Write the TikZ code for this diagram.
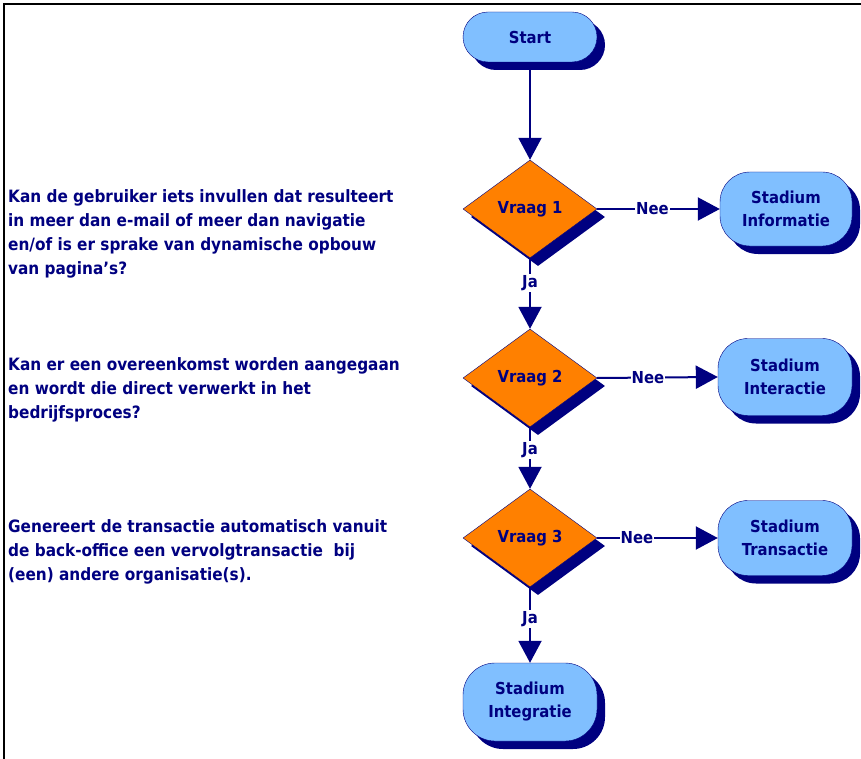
\documentclass[tikz,border=0pt]{standalone}
\usepackage{fontspec}
\setmainfont{DejaVu Sans Condensed}
\usepackage{tikz}
\usetikzlibrary{shapes.geometric,shadows,arrows.meta}

\definecolor{navy}{HTML}{000080}
\definecolor{lichtblauw}{HTML}{80BFFF}
\definecolor{oranje}{HTML}{FF8000}

\tikzset{
  schaduw/.style={drop shadow={shadow xshift=8pt,shadow yshift=-8pt,fill=navy,opacity=1}},
  stadium/.style={draw=navy, thin, fill=lichtblauw, schaduw, rounded corners=30pt,
    minimum width=134pt, minimum height=76pt, align=center, text=navy,
    font=\bfseries\fontsize{16.5}{23}\selectfont},
  vraag/.style={diamond, draw=navy, thin, fill=oranje, schaduw, inner sep=0pt,
    minimum width=134pt, minimum height=98pt, text=navy,
    font=\bfseries\fontsize{16.5}{20}\selectfont},
  pijl/.style={navy, line width=2pt, -{Triangle[length=22pt,width=23pt]}},
  vraagtekst/.style={anchor=north west, align=left, text=navy, inner sep=0pt,
    font=\bfseries\fontsize{17}{24}\selectfont},
  keuze/.style={fill=white, text=navy, inner sep=1pt, font=\bfseries\fontsize{16.5}{20}\selectfont}
}

\begin{document}
\begin{tikzpicture}[x=1pt,y=-1pt]
        \useasboundingbox (0,0) rectangle (861,759);
        
        % Kader.
        \draw[line width=2pt] (4,759) -- (4,4) -- (861,4);
        
        % Stappen.
        \node[stadium, rounded corners=25pt, minimum height=50pt] (start) at (530,37) {Start};
        \node[vraag] (vraag1) at (530,209) {Vraag 1};
        \node[vraag] (vraag2) at (530,378) {Vraag 2};
        \node[vraag] (vraag3) at (530,538) {Vraag 3};
        \node[stadium, minimum width=132pt, minimum height=74pt] (informatie) at (786,209) {Stadium\\Informatie};
        \node[stadium, minimum width=134pt, minimum height=77pt] (interactie) at (785,377) {Stadium\\Interactie};
        \node[stadium, minimum width=134pt, minimum height=75pt] (transactie) at (785,538) {Stadium\\Transactie};
        \node[stadium, minimum height=78pt, rounded corners=32pt] (integratie) at (530,702) {Stadium\\Integratie};
        
        % Vragen.
        \node[vraagtekst] (tekst1) at (8,189) {Kan de gebruiker iets invullen dat resulteert\\in meer dan e-mail of meer dan navigatie\\en/of is er sprake van dynamische opbouw\\van pagina's?};
        \node[vraagtekst] (tekst2) at (8,357) {Kan er een overeenkomst worden aangegaan\\en wordt die direct verwerkt in het\\bedrijfsproces?};
        \node[vraagtekst] (tekst3) at (8,519) {Genereert de transactie automatisch vanuit\\de back-office een vervolgtransactie \ bij\\(een) andere organisatie(s).};
        
        % Pijlen.
        \draw[pijl] (start) -- (vraag1.north);
        \draw[pijl] (vraag1.south) -- node[keuze, pos=0.35] {Ja} (vraag2.north);
        \draw[pijl] (vraag2.south) -- node[keuze, pos=0.37] {Ja} (vraag3.north);
        \draw[pijl] (vraag3.south) -- node[keuze, pos=0.42] {Ja} (integratie.north);
        \draw[pijl] (vraag1.east) -- node[keuze, pos=0.45] {Nee} (informatie.west);
        \draw[pijl] (vraag2.east) -- node[keuze, pos=0.42] {Nee} (interactie.west);
        \draw[pijl] (vraag3.east) -- node[keuze, pos=0.33] {Nee} (transactie.west);
\end{tikzpicture}
\end{document}
